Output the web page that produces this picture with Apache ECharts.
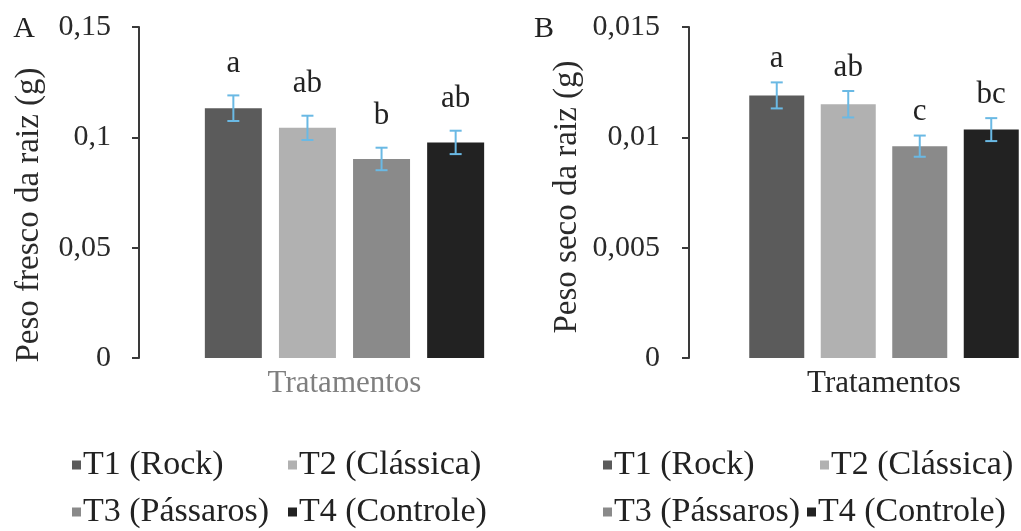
<!DOCTYPE html>
<html><head><meta charset="utf-8">
<script src="https://cdn.jsdelivr.net/npm/echarts@6/dist/echarts.min.js"></script>
<style>html,body{margin:0;padding:0;background:#fff}#c{width:1021px;height:531px}</style>
</head><body><div id="c"></div>
<script>
const categories = ['Tratamentos'];
const treatments = ['T1 (Rock)', 'T2 (Clássica)', 'T3 (Pássaros)', 'T4 (Controle)'];
const freshValues = [0.1132, 0.1043, 0.0902, 0.0977];
const freshErrors = [0.0058, 0.0055, 0.0051, 0.0053];
const freshLetters = ['a', 'ab', 'b', 'ab'];
const dryValues = [0.0119, 0.0115, 0.0096, 0.01035];
const dryErrors = [0.00059, 0.0006, 0.00048, 0.00052];
const dryLetters = ['a', 'ab', 'c', 'bc'];
const freshTicks = [0, 0.05, 0.1, 0.15];
const dryTicks = [0, 0.005, 0.01, 0.015];

const colors = ['#5b5b5b', '#b1b1b1', '#8a8a8a', '#222222'];
const FONT = "'Liberation Serif', 'Times New Roman', serif";
const ERR_COLOR = '#6ab9e4';
const BAR_GAP = 0.3;

const fmt = v => String(+(+v).toFixed(4)).replace('.', ',');

function yAxis(grid, ticks, offset, margin) {
  return {
    type: 'value', gridIndex: grid, min: ticks[0], max: ticks[ticks.length - 1],
    interval: ticks[1] - ticks[0], offset: offset,
    axisLine: { show: true, lineStyle: { color: '#3a3a3a', width: 2 } },
    axisTick: { show: true, length: 7, lineStyle: { color: '#3a3a3a', width: 2 } },
    splitLine: { show: false },
    axisLabel: { formatter: fmt, fontFamily: FONT, fontSize: 30, color: '#2a2a2a', margin: margin }
  };
}
function xAxis(grid, color) {
  return {
    type: 'category', gridIndex: grid, data: categories,
    axisLine: { show: false }, axisTick: { show: false },
    axisLabel: { fontFamily: FONT, fontSize: 31, color: color, margin: 10 }
  };
}
function bars(grid, values, bw) {
  return values.map((v, i) => ({
    type: 'bar', name: treatments[i], xAxisIndex: grid, yAxisIndex: grid,
    data: [v], barWidth: bw, barGap: (BAR_GAP * 100) + '%',
    itemStyle: { color: colors[i] }, emphasis: { disabled: true }
  }));
}
function errSeries(grid, values, errors, letters, bw, labelGap) {
  return {
    type: 'custom', xAxisIndex: grid, yAxisIndex: grid, z: 5,
    data: values.map((v, i) => [0, v, errors[i], i]),
    encode: { x: 0, y: 1 },
    renderItem: function (params, api) {
      const idx = api.value(3), v = api.value(1), e = api.value(2);
      const base = api.coord([api.value(0), v]);
      const step = bw * (1 + BAR_GAP);
      const x = base[0] + (idx - (values.length - 1) / 2) * step;
      const yHi = api.coord([api.value(0), v + e])[1];
      const yLo = api.coord([api.value(0), v - e])[1];
      const cw = 6;
      const ls = { stroke: ERR_COLOR, lineWidth: 2 };
      return {
        type: 'group', children: [
          { type: 'line', shape: { x1: x, y1: yHi, x2: x, y2: yLo }, style: ls },
          { type: 'line', shape: { x1: x - cw, y1: yHi, x2: x + cw, y2: yHi }, style: ls },
          { type: 'line', shape: { x1: x - cw, y1: yLo, x2: x + cw, y2: yLo }, style: ls },
          { type: 'text', x: x, y: yHi - labelGap, style: {
            text: letters[idx], font: '31px ' + FONT, fill: '#222',
            textAlign: 'center', textVerticalAlign: 'bottom' } }
        ]
      };
    }
  };
}
function legendItem(name, left, top) {
  return {
    data: [name], left: left, top: top, padding: 0, selectedMode: false,
    icon: 'rect', itemWidth: 9, itemHeight: 9,
    textStyle: { fontFamily: FONT, fontSize: 34, color: '#222', lineHeight: 34, padding: [0, 0, 0, -3] }
  };
}

const chart = echarts.init(document.getElementById('c'), null, { renderer: 'canvas' });
chart.setOption({
  animation: false,
  backgroundColor: '#fff',
  grid: [
    { left: 139, width: 411, top: 27, bottom: 173 },
    { left: 749, width: 270, top: 27, bottom: 173 }
  ],
  xAxis: [xAxis(0, '#7f7f7f'), xAxis(1, '#262626')],
  yAxis: [yAxis(0, freshTicks, 0, 28), yAxis(1, dryTicks, 60, 29)],
  legend: [
    legendItem(treatments[0], 72, 448), legendItem(treatments[1], 288, 448),
    legendItem(treatments[2], 72, 495), legendItem(treatments[3], 288, 495),
    legendItem(treatments[0], 603, 448), legendItem(treatments[1], 820, 448),
    legendItem(treatments[2], 603, 495), legendItem(treatments[3], 807, 495)
  ],
  graphic: [
    { type: 'text', x: 24, y: 29, style: { text: 'A', font: '30px ' + FONT, fill: '#222', textAlign: 'center', textVerticalAlign: 'middle' } },
    { type: 'text', x: 544, y: 29, style: { text: 'B', font: '30px ' + FONT, fill: '#222', textAlign: 'center', textVerticalAlign: 'middle' } },
    { type: 'text', x: 29, y: 215, rotation: Math.PI / 2, style: { text: 'Peso fresco da raiz (g)', font: '33px ' + FONT, fill: '#2a2a2a', textAlign: 'center', textVerticalAlign: 'middle' } },
    { type: 'text', x: 567, y: 197, rotation: Math.PI / 2, style: { text: 'Peso seco da raiz (g)', font: '33px ' + FONT, fill: '#2a2a2a', textAlign: 'center', textVerticalAlign: 'middle' } }
  ],
  series: [].concat(
    bars(0, freshValues, 57), bars(1, dryValues, 55),
    [errSeries(0, freshValues, freshErrors, freshLetters, 57, 16),
     errSeries(1, dryValues, dryErrors, dryLetters, 55, 8)]
  )
});
</script></body></html>
